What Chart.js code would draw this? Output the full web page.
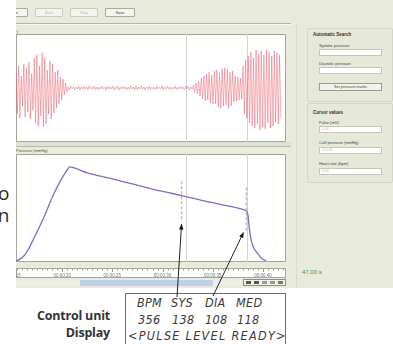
<!DOCTYPE html>
<html><head><meta charset="utf-8">
<script src="https://cdn.jsdelivr.net/npm/chart.js@4.4.0/dist/chart.umd.min.js"></script>
<style>
html,body{margin:0;padding:0;background:#fff;width:393px;height:344px;overflow:hidden;font-family:"Liberation Sans",Arial,sans-serif;}
.a{position:absolute;}
#app{position:absolute;left:16px;top:0;width:377px;height:288px;background:#e8eadb;overflow:hidden;}
.btn{position:absolute;top:8px;height:9px;box-sizing:border-box;border:1px solid #a9ab9e;background:#f4f5ee;border-radius:1px;font-size:4px;line-height:7px;text-align:center;color:#444;}
.btn.dis{color:#b8b8b0;border-color:#c8cabe;}
.hdr{position:absolute;left:0;width:274px;font-size:4px;color:#555;white-space:nowrap;}
.frame{position:absolute;left:0;width:270px;height:108px;box-sizing:border-box;border:1px solid #a4a698;background:#fff;}
.gb{position:absolute;left:291px;width:86px;box-sizing:border-box;border:1px solid #d4d6c6;border-radius:2px;background:#e6e8d8;}
.gt{position:absolute;left:5px;font-size:4.5px;font-weight:bold;color:#333;white-space:nowrap;}
.lb{position:absolute;left:11px;font-size:4px;color:#444;white-space:nowrap;}
.in{position:absolute;left:11px;width:63px;height:7px;box-sizing:border-box;border:1px solid #c4c6bc;background:#fff;font-size:3.5px;line-height:5px;color:#bbb;padding-left:2px;}
canvas{position:absolute;}
.lcd{position:absolute;left:125px;top:293px;width:161px;height:60px;box-sizing:border-box;border:1px solid #6a6a6a;background:#fff;}
.lr{position:absolute;font-family:"DejaVu Sans Condensed","DejaVu Sans",sans-serif;font-style:italic;font-weight:300;font-size:12.5px;color:#3a3a3a;white-space:nowrap;letter-spacing:0.3px;}
</style></head><body>
<div id="app">
  <div class="btn" style="left:-18px;width:30px;">Open</div>
  <div class="btn dis" style="left:19px;width:28px;">Start</div>
  <div class="btn dis" style="left:54px;width:28px;">Stop</div>
  <div class="btn" style="left:89px;width:30px;">Save</div>
  <div class="a" style="left:0;top:23px;width:275px;height:1px;background:#b4b6a8;"></div>
  <div class="a" style="left:0;top:24px;width:275px;height:1px;background:#f6f7f0;"></div>
  <div class="hdr" style="top:29px;left:-26px;">Oscillation (bar)</div>
  <div class="frame" style="top:34px;"></div>
  <div class="a" style="left:0;top:142px;width:275px;height:4px;background:#dfe1d2;"></div>
  <div class="a" style="left:0;top:146px;width:275px;height:1px;background:#b8baac;"></div>
  <div class="hdr" style="top:148px;">Pressure (mmHg)</div>
  <div class="frame" style="top:154px;"></div>
  <div class="a" style="left:0;top:268px;width:270px;height:10px;box-sizing:border-box;border:1px solid #a4a698;background:#fff;"></div>
  <div class="a" style="left:0;top:280px;width:225px;height:6px;background:#eef0e6;"></div>
  <div class="a" style="left:64px;top:280px;width:133px;height:6px;background:#c2cfe8;"></div>
  <div class="a" style="left:227px;top:279px;width:43px;height:7px;box-sizing:border-box;border:1px solid #8c8e84;background:#f0f1ea;"></div>
  <div class="a" style="left:230px;top:281px;width:5px;height:3px;background:#555;"></div>
  <div class="a" style="left:238px;top:281px;width:5px;height:3px;background:#555;"></div>
  <div class="a" style="left:246px;top:281px;width:5px;height:3px;background:#999;"></div>
  <div class="a" style="left:254px;top:281px;width:5px;height:3px;background:#999;"></div>
  <div class="a" style="left:262px;top:281px;width:5px;height:3px;background:#777;"></div>
  <div class="a" style="left:280px;top:24px;width:1px;height:264px;background:#d9dbcc;"></div>
  <div class="gb" style="top:28px;height:74px;">
    <div class="gt" style="top:3px;">Automatic Search</div>
    <div class="lb" style="top:14px;">Systolic pressure</div>
    <div class="in" style="top:20px;"></div>
    <div class="lb" style="top:32px;">Diastolic pressure</div>
    <div class="in" style="top:38px;"></div>
    <div class="in" style="top:54px;height:8px;background:#f2f3ec;border-color:#9a9c90;color:#444;text-align:center;padding:0;line-height:6px;font-size:3.8px;">Set pressure marks</div>
  </div>
  <div class="gb" style="top:103px;height:80px;">
    <div class="gt" style="top:6px;">Cursor values</div>
    <div class="lb" style="top:16px;">Pulse (mV)</div>
    <div class="in" style="top:22px;">0.00</div>
    <div class="lb" style="top:36px;">Cuff pressure (mmHg)</div>
    <div class="in" style="top:43px;">110.40</div>
    <div class="lb" style="top:57px;">Heart rate (bpm)</div>
    <div class="in" style="top:64px;">0.00</div>
  </div>
  <div class="a" style="left:286px;top:269px;font-size:6px;color:#3a9a4a;">47.00 s</div>
</div>
<canvas id="osc" width="270" height="108" style="left:16px;top:34px;"></canvas>
<canvas id="prs" width="270" height="125" style="left:16px;top:154px;"></canvas>
<div class="a" style="left:-40px;top:182px;width:49.5px;text-align:right;font-family:'Open Sans',sans-serif;font-size:19px;line-height:22px;color:#2a2a2a;">o<br>n</div>
<div class="a" style="left:0;top:307px;width:110px;text-align:right;font-family:'Open Sans',sans-serif;font-weight:bold;font-size:12.5px;line-height:17px;color:#333;letter-spacing:-0.2px;">Control unit<br>Display</div>
<div class="lcd">
  <div class="lr" style="left:11px;top:1px;">BPM</div>
  <div class="lr" style="left:45px;top:1px;">SYS</div>
  <div class="lr" style="left:79px;top:1px;">DIA</div>
  <div class="lr" style="left:110px;top:1px;">MED</div>
  <div class="lr" style="left:12px;top:18px;">356</div>
  <div class="lr" style="left:46px;top:18px;">138</div>
  <div class="lr" style="left:79px;top:18px;">108</div>
  <div class="lr" style="left:111px;top:18px;">118</div>
  <div class="lr" style="left:2px;top:34px;letter-spacing:1.3px;">&lt;PULSE LEVEL READY&gt;</div>
</div>
<svg id="arrows" class="a" style="left:0;top:0;" width="393" height="344"></svg>
<script>
// ---- data ----
const timeRange = [15.4, 42.3];             // seconds shown
const tickSeconds = [15, 20, 25, 30, 35, 40];
const cursorTimes = [32.3, 38.4];
const pulseStart = 15.4;                   // s
const pulseStep = 0.13;                    // s between samples
const pulseSignal = [
  // inflation, pulses in cuff
  16,-26,22,-30,12,-18,24,-29,20,-24,
  26,-31,14,-22,30,-35,33,-38,22,-28,
  35,-39,30,-36,18,-26,27,-31,24,-25,
  16,-20,18,-16,11,-12,9,-7,5,-4,
  // occluded, flat
  1,-2,2,-1,1,-2,1,-1,2,-2,1,-1,
  2,-1,1,-2,2,-1,1,-1,2,-2,1,-2,
  1,-1,2,-1,1,-2,2,-1,1,-1,2,-2,
  1,-1,2,-2,1,-1,2,-1,1,-2,1,-1,
  2,-1,1,-2,2,-2,1,-1,2,-1,1,-2,
  1,-1,2,-2,1,-1,1,-2,2,-1,1,-1,
  2,-2,1,-1,2,-1,1,-2,1,-1,2,-2,
  1,-1,2,-1,1,-2,2,-1,2,-2,1,-1,
  // deflation, pulses return
  3,-4,5,-6,7,-8,
  10,-11,12,-13,14,-12,16,-15,13,-16,17,-16,
  18,-19,15,-20,19,-18,20,-17,19,-20,16,-18,17,
  -14,12,-13,11,-12,10,-11,
  22,-26,28,-30,32,-35,
  36,-38,30,-40,38,-36,34,-42,37,-39,33,-41,38,-35,36,-40,32,-38,37,-34,35,-36,33,-30
];
const pressureTimes = [15.4,15.8,16.2,16.6,17.1,17.8,18.5,19.1,19.8,20.4,20.8,21.2,22.6,24.8,27.3,29.8,31.8,33.8,35.8,38.1,38.3,38.5,38.65,38.85,39.1,39.5,39.9,40.3];
const pressureValues = [2,6,13,25,46,76,109,139,168,189,198,196,185,174,161,148,139,129,120,109,107,99,69,44,29,17,7,3];
const sysMarkerTime = 31.9, sysMarkerRange = [168, 84];
const diaMarkerTime = 38.35, diaMarkerRange = [155, 64];
const arrowTips = [[31.9, 80], [38.1, 63]];  // (s, mmHg)
const arrowStarts = [[177, 297], [213, 296]]; // page px, at the display text
const pressureRange = [0, 225];

// ---- charts ----
const cursorPlugin = {
  id: 'cursorLines',
  beforeDatasetsDraw(chart, args, opts) {
    const {ctx, chartArea, scales} = chart;
    ctx.save();
    ctx.strokeStyle = '#cfd3dc';
    ctx.lineWidth = 1;
    (opts.times || []).forEach(t => {
      const x = Math.round(scales.x.getPixelForValue(t)) + 0.5;
      ctx.beginPath(); ctx.moveTo(x, chartArea.top); ctx.lineTo(x, chartArea.bottom); ctx.stroke();
    });
    ctx.restore();
  }
};
const rulerPlugin = {
  id: 'ruler',
  afterDraw(chart, args, opts) {
    if (!opts.on) return;
    const {ctx, chartArea, scales} = chart;
    ctx.save();
    ctx.strokeStyle = '#9a9a9a';
    ctx.lineWidth = 1;
    for (let t = Math.ceil(timeRange[0] * 2) / 2; t <= timeRange[1]; t += 0.5) {
      const x = Math.round(scales.x.getPixelForValue(t)) + 0.5;
      const h = (t % 5 === 0) ? 3 : 1.5;
      ctx.beginPath(); ctx.moveTo(x, chartArea.bottom + 7); ctx.lineTo(x, chartArea.bottom + 7 + h); ctx.stroke();
    }
    ctx.restore();
  }
};

const pulsePoints = pulseSignal.map((v, i) => ({x: pulseStart + i * pulseStep, y: v}));

new Chart(document.getElementById('osc'), {
  type: 'line',
  data: {datasets: [{data: pulsePoints, borderColor: 'rgba(232,78,96,0.55)', borderWidth: 0.8, pointRadius: 0, tension: 0}]},
  options: {
    responsive: false, animation: false, devicePixelRatio: 1,
    layout: {padding: 0},
    plugins: {legend: {display: false}, tooltip: {enabled: false}, cursorLines: {times: cursorTimes}, ruler: {on: false}},
    scales: {
      x: {type: 'linear', min: timeRange[0], max: timeRange[1], display: false},
      y: {min: -54, max: 54, display: false}
    }
  },
  plugins: [cursorPlugin, rulerPlugin]
});

const pad2 = n => String(n).padStart(2, '0');
const prsChart = new Chart(document.getElementById('prs'), {
  type: 'line',
  data: {datasets: [
    {data: [{x: sysMarkerTime, y: sysMarkerRange[0]}, {x: sysMarkerTime, y: sysMarkerRange[1]}], borderColor: 'rgba(170,170,170,0.75)', borderWidth: 1.5, borderDash: [3, 2], pointRadius: 0},
    {data: [{x: diaMarkerTime, y: diaMarkerRange[0]}, {x: diaMarkerTime, y: diaMarkerRange[1]}], borderColor: 'rgba(170,170,170,0.75)', borderWidth: 1.5, borderDash: [3, 2], pointRadius: 0},
    {data: pressureTimes.map((t, i) => ({x: t, y: pressureValues[i]})), borderColor: '#7273c6', borderWidth: 1.3, pointRadius: 0, tension: 0.2, cubicInterpolationMode: 'monotone'}
  ]},
  options: {
    responsive: false, animation: false, devicePixelRatio: 1,
    layout: {padding: 0},
    plugins: {legend: {display: false}, tooltip: {enabled: false}, cursorLines: {times: cursorTimes}, ruler: {on: true}},
    scales: {
      x: {type: 'linear', min: timeRange[0], max: timeRange[1], position: 'bottom',
          grid: {display: false, drawTicks: false}, border: {display: false},
          afterFit: s => { s.height = 17; s.paddingLeft = 0; s.paddingRight = 0; },
          afterBuildTicks: s => { s.ticks = tickSeconds.map(v => ({value: v})); },
          ticks: {autoSkip: false, maxRotation: 0, padding: 11, color: '#777', font: {size: 4.5, family: 'Liberation Sans'},
                  callback: v => '00:00:' + pad2(v)}},
      y: {min: pressureRange[0], max: pressureRange[1], display: false}
    }
  },
  plugins: [cursorPlugin, rulerPlugin]
});

// arrows from display text to the marks, tips taken from the chart scales
const svg = document.getElementById('arrows');
const cv = document.getElementById('prs');
const ox = cv.offsetLeft, oy = cv.offsetTop;
arrowTips.forEach((tip, i) => {
  const tx = ox + prsChart.scales.x.getPixelForValue(tip[0]);
  const ty = oy + prsChart.scales.y.getPixelForValue(tip[1]);
  const [sx, sy] = arrowStarts[i];
  const ang = Math.atan2(ty - sy, tx - sx);
  const L = 6, W = 2.2;
  const bx = tx - L * Math.cos(ang), by = ty - L * Math.sin(ang);
  const px = -Math.sin(ang) * W, py = Math.cos(ang) * W;
  svg.insertAdjacentHTML('beforeend',
    `<line x1="${sx}" y1="${sy}" x2="${bx}" y2="${by}" stroke="#222" stroke-width="1"/>` +
    `<polygon points="${tx},${ty} ${bx + px},${by + py} ${bx - px},${by - py}" fill="#111"/>`);
});
</script>
</body></html>
